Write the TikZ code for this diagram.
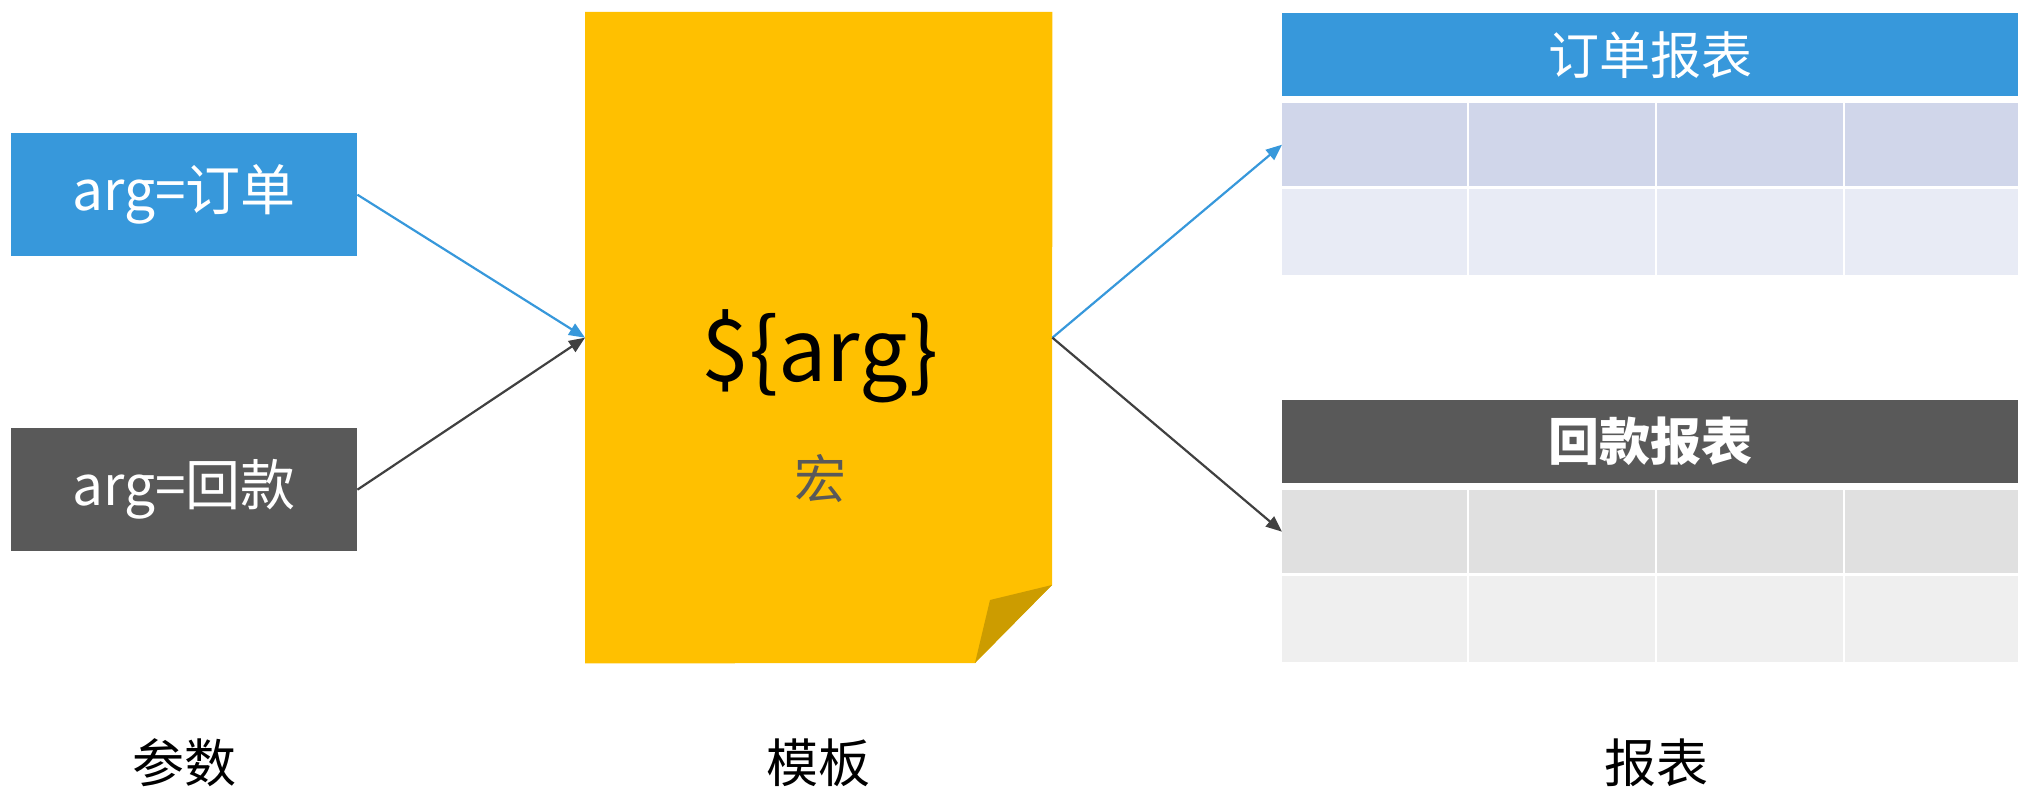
\documentclass[tikz,border=0pt]{standalone}
\usepackage{fontspec}
\setmainfont{Noto Sans CJK SC}
\usetikzlibrary{arrows.meta}
\definecolor{cblue}{HTML}{3798DB}
\definecolor{cgray}{HTML}{595959}
\definecolor{cyellow}{HTML}{FFC000}
\definecolor{cfold}{HTML}{CC9C00}
\definecolor{cline}{HTML}{404040}
\definecolor{browa}{HTML}{D0D6EA}
\definecolor{browb}{HTML}{E8EBF5}
\definecolor{growa}{HTML}{E0E0E0}
\definecolor{growb}{HTML}{EFEFEF}
\begin{document}
\begin{tikzpicture}[x=1pt,y=-1pt,
  argbox/.style={minimum width=346pt, minimum height=123pt, inner sep=0pt, anchor=north west, text=white, font=\fontsize{55}{60}\selectfont},
  headbox/.style={minimum width=736pt, minimum height=83pt, inner sep=0pt, anchor=north west, text=white, font=\fontsize{51}{56}\selectfont},
  rowbox/.style={minimum width=736pt, minimum height=#1, inner sep=0pt, anchor=north west},
  conn/.style={line width=2.2pt, -{Triangle[length=16pt,width=13pt]}},
  caption/.style={font=\fontsize{52}{56}\selectfont, text=black}]
\useasboundingbox (0,0) rectangle (2018,791);

% parameter boxes
\node[argbox, fill=cblue] (a1) at (11,133) {arg=订单};
\node[argbox, fill=cgray] (a2) at (11,428) {arg=回款};

% template document
\node[minimum width=467pt, minimum height=651pt, inner sep=0pt, anchor=north west] (doc) at (585,12) {};
\fill[cyellow] (doc.north west) -- (doc.north east) -- (1052,585) -- (975,663) -- (doc.south west) -- cycle;
\fill[cfold] (1052,585) -- (990,600) -- (975,663) -- cycle;
\node[font=\fontsize{86}{90}\selectfont, text=black] (macro) at (820,356) {\$\{arg\}};
\node[font=\fontsize{52}{56}\selectfont, text=cgray] (hong) at (820,479) {宏};

% report tables
\node[headbox, fill=cblue] (h1) at (1282,13) {订单报表};
\node[rowbox=83pt, fill=browa] (r1) at (1282,103) {};
\node[rowbox=86pt, fill=browb] (r2) at (1282,189) {};
\node[headbox, fill=cgray, font=\fontsize{51}{56}\selectfont\bfseries] (h2) at (1282,400) {回款报表};
\node[rowbox=83pt, fill=growa] (g1) at (1282,490) {};
\node[rowbox=86pt, fill=growb] (g2) at (1282,576) {};
\foreach \cx in {1468,1656,1844}{
  \draw[white, line width=2.5pt] (\cx,103) -- (\cx,275);
  \draw[white, line width=2.5pt] (\cx,490) -- (\cx,662);
}

% connectors
\draw[conn, cblue] (a1.east) -- (doc.west);
\draw[conn, cline] (a2.east) -- (doc.west);
\draw[conn, cblue] (doc.east) -- (r1.west);
\draw[conn, cline] (doc.east) -- (g1.west);

% captions
\node[caption] (c1) at (184,763) {参数};
\node[caption] (c2) at (818,763) {模板};
\node[caption] (c3) at (1656,763) {报表};
\end{tikzpicture}
\end{document}
